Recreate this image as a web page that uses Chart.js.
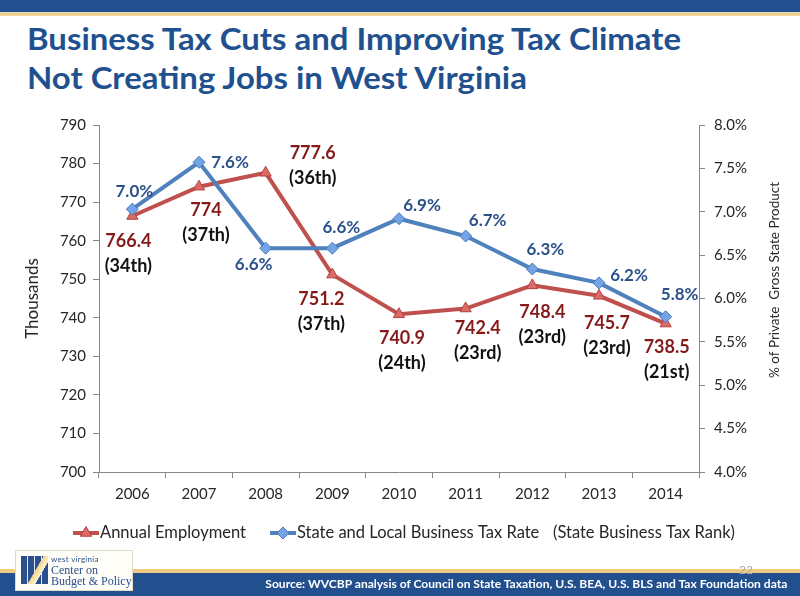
<!DOCTYPE html>
<html>
<head>
<meta charset="utf-8">
<title>Business Tax Cuts and Improving Tax Climate</title>
<script src="https://cdn.jsdelivr.net/npm/chart.js@4.4.1/dist/chart.umd.min.js"></script>
<style>
  html, body { margin: 0; padding: 0; background: #fff; }
  #page { position: relative; width: 800px; height: 596px; overflow: hidden; font-family: Lato, 'Open Sans', sans-serif; }
  .bar-top  { position: absolute; left: 0; top: 0; width: 800px; height: 12px; background: #22508f; }
  .gold-top { position: absolute; left: 0; top: 12px; width: 800px; height: 4px; background: linear-gradient(#d9dfe8, #ebca84 35%, #f3dca6); }
  .title { position: absolute; left: 27px; top: 19px; color: #21508f; font-weight: 700; font-size: 31px; line-height: 39px; white-space: nowrap; }
  .title span { display: inline-block; transform-origin: 0 50%; }
  .gold-bot { position: absolute; left: 0; top: 569px; width: 800px; height: 4px; background: #edcb82; }
  .bar-bot  { position: absolute; left: 0; top: 573px; width: 800px; height: 23px; background: #22508f; }
  .source { position: absolute; right: 13px; top: 576px; color: #fff; font-weight: 700; font-size: 12px; line-height: 16px; white-space: nowrap; transform-origin: 100% 50%; }
  .pageno { position: absolute; left: 739px; top: 563px; color: #a8a8a8; font-size: 12px; line-height: 14px; }
  .logo { position: absolute; left: 15px; top: 550px; width: 116px; height: 39px; background: #fffef8; border: 1px solid #e3dcc4; }
  .logo .icon { position: absolute; left: 5px; top: 5px; width: 27px; height: 28px; background:
      linear-gradient(120deg, transparent 52%, #f2d38c 53%, #fff3cf 70%, transparent 71%),
      repeating-linear-gradient(90deg, #2b4f8e 0 6px, #dfe6f2 6px 7px),
      #2b4f8e; }
  .logo .small { position: absolute; left: 35px; top: 3px; font-size: 8px; color: #2b4f8e; letter-spacing: 0.3px; }
  .logo .big { position: absolute; left: 35px; font-family: 'Liberation Serif', serif; font-size: 12px; color: #2b4f8e; line-height: 12px; }
  canvas { position: absolute; left: 0; top: 0; }
</style>
</head>
<body>
<div id="page">
  <div class="bar-top"></div>
  <div class="gold-top"></div>
  <div class="title">
    <span id="t1">Business Tax Cuts and Improving Tax Climate</span><br>
    <span id="t2">Not Creating Jobs in West Virginia</span>
  </div>
  <canvas id="chart" width="800" height="596"></canvas>
  <div class="gold-bot"></div>
  <div class="bar-bot"></div>
  <div class="pageno">22</div>
  <div class="source" id="source">Source: WVCBP analysis of Council on State Taxation, U.S. BEA, U.S. BLS and Tax Foundation data</div>
  <div class="logo">
    <div class="icon"></div>
    <div class="small">west virginia</div>
    <div class="big" style="top:13px">Center on</div>
    <div class="big" style="top:24px">Budget &amp; Policy</div>
  </div>
</div>

<script>
'use strict';

// ── Data ────────────────────────────────────────────────────────────────────

var YEARS      = ['2006', '2007', '2008', '2009', '2010', '2011', '2012', '2013', '2014'];
var EMPLOYMENT = [766.4, 774, 777.6, 751.2, 740.9, 742.4, 748.4, 745.7, 738.5];   // thousands
var TAX_RATE   = [7.03, 7.57, 6.58, 6.58, 6.92, 6.72, 6.34, 6.18, 5.79];         // % of private GSP
var TAX_RANK   = ['(34th)', '(37th)', '(36th)', '(37th)', '(24th)', '(23rd)', '(23rd)', '(23rd)', '(21st)'];

var LEFT_TICKS  = [700, 710, 720, 730, 740, 750, 760, 770, 780, 790];
var RIGHT_TICKS = [4.0, 4.5, 5.0, 5.5, 6.0, 6.5, 7.0, 7.5, 8.0];

// ── Label placement (pixel offsets from each point) ─────────────────────────

var EMP_LABEL_DX = [-4, 7, 47, -11, 3, 12, 10, 8, 1];
var EMP_LABEL_DY = [25, 23, -20, 25, 24, 20, 27, 27, 24];
var RATE_LABEL_DX = [2, 31, -12, 9, 23, 22, 13, 30, 14];
var RATE_LABEL_DY = [-18, 0, 16, -21, -13, -16, -19, -7, -22];

var RED  = '#c0504d';
var BLUE = '#4f81bd';
var FONT = "Lato, 'Open Sans', sans-serif";
var AXIS = '#868686';
var INK  = '#262626';

// ── Plugins ─────────────────────────────────────────────────────────────────

var pointLabels = {
  id: 'pointLabels',
  afterDatasetsDraw: function (chart) {
    var ctx = chart.ctx;
    ctx.save();
    ctx.textAlign = 'center';
    ctx.textBaseline = 'middle';

    chart.getDatasetMeta(0).data.forEach(function (pt, i) {
      var x = pt.x + EMP_LABEL_DX[i];
      var y = pt.y + EMP_LABEL_DY[i];
      ctx.font = 'bold 18px ' + FONT;
      ctx.fillStyle = '#861a1a';
      ctx.fillText(String(EMPLOYMENT[i]), x, y);
      ctx.fillStyle = '#111';
      ctx.fillText(TAX_RANK[i], x, y + 25);
    });

    chart.getDatasetMeta(1).data.forEach(function (pt, i) {
      ctx.font = 'bold 17px ' + FONT;
      ctx.fillStyle = '#2b5189';
      ctx.fillText(TAX_RATE[i].toFixed(1) + '%', pt.x + RATE_LABEL_DX[i], pt.y + RATE_LABEL_DY[i]);
    });
    ctx.restore();
  }
};

function legendMarker(ctx, ds, x, y) {
  ctx.save();
  ctx.strokeStyle = ds.borderColor;
  ctx.lineWidth = 4;
  ctx.beginPath();
  ctx.moveTo(x - 13, y);
  ctx.lineTo(x + 13, y);
  ctx.stroke();
  ctx.fillStyle = ds.pointBackgroundColor;
  ctx.strokeStyle = ds.pointBorderColor;
  ctx.lineWidth = 1;
  Chart.helpers.drawPoint(ctx, { pointStyle: ds.pointStyle, radius: ds.pointRadius, rotation: 0, borderWidth: 1 }, x, y);
  ctx.restore();
}

var extras = {
  id: 'extras',
  afterDraw: function (chart) {
    var ctx = chart.ctx;
    var ds = chart.data.datasets;

    // right axis title reads bottom-to-top, so draw it here
    ctx.save();
    ctx.translate(775, 280);
    ctx.rotate(-Math.PI / 2);
    ctx.font = '13.5px ' + FONT;
    ctx.fillStyle = INK;
    ctx.textAlign = 'center';
    ctx.textBaseline = 'middle';
    ctx.fillText('% of Private  Gross State Product', 0, 0);
    ctx.restore();

    // legend
    legendMarker(ctx, ds[0], 86, 533);
    legendMarker(ctx, ds[1], 283, 533);
    ctx.save();
    ctx.font = '16.5px ' + FONT;
    ctx.fillStyle = INK;
    ctx.textBaseline = 'middle';
    ctx.fillText(ds[0].label, 100, 533);
    ctx.fillText(ds[1].label, 297, 533);
    ctx.fillText('(State Business Tax Rank)', 553, 533);
    ctx.restore();
  }
};

// ── Chart ───────────────────────────────────────────────────────────────────

new Chart(document.getElementById('chart'), {
  type: 'line',
  data: {
    labels: YEARS,
    datasets: [{
      label: 'Annual Employment',
      data: EMPLOYMENT,
      yAxisID: 'y',
      order: 2,
      borderColor: RED,
      borderWidth: 4,
      tension: 0,
      pointStyle: 'triangle',
      pointRadius: 6.5,
      pointBackgroundColor: '#dc6a66',
      pointBorderColor: '#b2433f',
      pointBorderWidth: 1,
    }, {
      label: 'State and Local Business Tax Rate',
      data: TAX_RATE,
      yAxisID: 'y1',
      order: 1,
      borderColor: BLUE,
      borderWidth: 4,
      tension: 0,
      pointStyle: 'rectRot',
      pointRadius: 6,
      pointBackgroundColor: '#74a4e6',
      pointBorderColor: '#467abb',
      pointBorderWidth: 1,
    }],
  },
  options: {
    responsive: false,
    devicePixelRatio: 1,
    animation: false,
    layout: { padding: { left: 0, right: 0, top: 125, bottom: 84 } },
    plugins: {
      legend: { display: false },
      tooltip: { enabled: false },
    },
    scales: {
      x: {
        offset: true,
        afterFit: function (s) { s.height = 40; },
        grid: { offset: true, drawOnChartArea: false, color: AXIS, tickLength: 6 },
        border: { color: AXIS },
        ticks: { color: INK, font: { family: FONT, size: 15 }, padding: 7, maxRotation: 0 },
      },
      y: {
        position: 'left',
        min: 700,
        max: 790,
        afterFit: function (s) { s.width = 99; },
        afterBuildTicks: function (s) { s.ticks = LEFT_TICKS.map(function (v) { return { value: v }; }); },
        grid: { drawOnChartArea: false, color: AXIS, tickLength: 6 },
        border: { color: AXIS },
        ticks: { color: INK, font: { family: FONT, size: 15 }, padding: 7 },
        title: { display: true, text: 'Thousands', color: INK, font: { family: FONT, size: 17 }, padding: { top: 22, bottom: 0 } },
      },
      y1: {
        position: 'right',
        min: 4,
        max: 8,
        afterFit: function (s) { s.width = 101; },
        afterBuildTicks: function (s) { s.ticks = RIGHT_TICKS.map(function (v) { return { value: v }; }); },
        grid: { drawOnChartArea: false, color: AXIS, tickLength: 6 },
        border: { color: AXIS },
        ticks: {
          color: INK,
          font: { family: FONT, size: 15 },
          padding: 9,
          callback: function (v) { return Number(v).toFixed(1) + '%'; },
        },
      },
    },
  },
  plugins: [pointLabels, extras],
});

// ── Fit slide text to the original widths ───────────────────────────────────

(function () {
  var t1 = document.getElementById('t1');
  var t2 = document.getElementById('t2');
  var k = 654 / t1.getBoundingClientRect().width;
  t1.style.transform = 'scaleX(' + k + ')';
  t2.style.transform = 'scaleX(' + k + ')';

  var src = document.getElementById('source');
  src.style.transform = 'scaleX(' + (522 / src.getBoundingClientRect().width) + ')';
})();
</script>
</body>
</html>
